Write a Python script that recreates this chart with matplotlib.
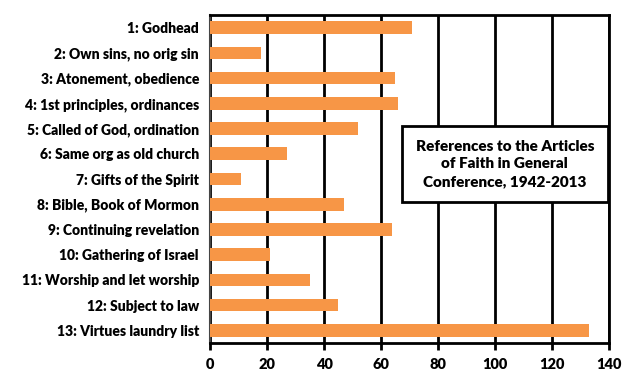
import matplotlib.pyplot as plt
from matplotlib.patches import Rectangle

# Data
articles = ['1: Godhead', '2: Own sins, no orig sin', '3: Atonement, obedience',
            '4: 1st principles, ordinances', '5: Called of God, ordination',
            '6: Same org as old church', '7: Gifts of the Spirit',
            '8: Bible, Book of Mormon', '9: Continuing revelation',
            '10: Gathering of Israel', '11: Worship and let worship',
            '12: Subject to law', '13: Virtues laundry list']
references = [71, 18, 65, 66, 52, 27, 11, 47, 64, 21, 35, 45, 133]
x_ticks = [0, 20, 40, 60, 80, 100, 120, 140]

plt.rcParams['font.family'] = ['Lato', 'DejaVu Sans']
plt.rcParams['font.weight'] = 'bold'

fig = plt.figure(figsize=(6.37, 3.83), dpi=100)
ax = fig.add_axes([0.3297, 0.1044, 0.6263, 0.8564])

y = range(len(articles))
ax.barh(y, references, height=0.5, color='#F79646', zorder=3)
ax.set_ylim(len(articles) - 0.5, -0.5)
ax.set_xlim(0, 140)
ax.set_xticks(x_ticks)
ax.set_yticks(list(y))
ax.set_yticklabels(articles, fontsize=10, fontweight='heavy')
ax.set_xticklabels([str(t) for t in x_ticks], fontsize=10.5, fontweight='heavy')

# Gridlines and frame
ax.grid(axis='x', color='black', linewidth=2, zorder=1)
for side in ['top', 'right', 'bottom']:
    ax.spines[side].set_linewidth(2)
    ax.spines[side].set_color('black')
ax.spines['left'].set_linewidth(1.5)
ax.spines['left'].set_color('#444444')
ax.tick_params(axis='x', direction='out', length=5, width=2, pad=6)
ax.tick_params(axis='y', length=0, pad=8)

# Title box
ax.add_patch(Rectangle((0.481, 0.43), 0.516, 0.232, transform=ax.transAxes,
                       facecolor='white', edgecolor='black', linewidth=2, zorder=5))
ax.text(0.739, 0.546, 'References to the Articles\nof Faith in General\nConference, 1942-2013',
        transform=ax.transAxes, ha='center', va='center', fontsize=11,
        fontweight='heavy', linespacing=1.4, zorder=6)

plt.savefig('out.png', dpi=100)
